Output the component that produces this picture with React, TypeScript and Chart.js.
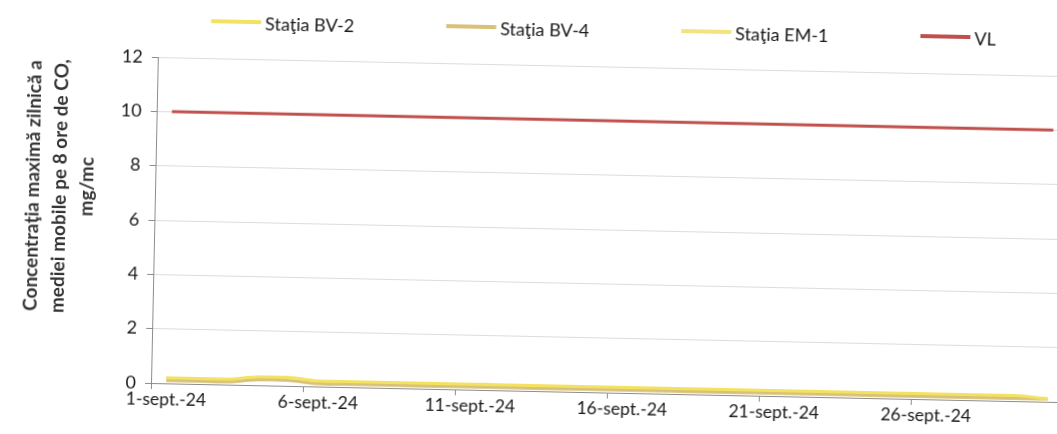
import { useEffect, useRef } from 'react';
import { Chart, registerables } from 'chart.js';

Chart.register(...registerables);

const dayLabels = [
  '1-sept.-24', '2-sept.-24', '3-sept.-24', '4-sept.-24', '5-sept.-24',
  '6-sept.-24', '7-sept.-24', '8-sept.-24', '9-sept.-24', '10-sept.-24',
  '11-sept.-24', '12-sept.-24', '13-sept.-24', '14-sept.-24', '15-sept.-24',
  '16-sept.-24', '17-sept.-24', '18-sept.-24', '19-sept.-24', '20-sept.-24',
  '21-sept.-24', '22-sept.-24', '23-sept.-24', '24-sept.-24', '25-sept.-24',
  '26-sept.-24', '27-sept.-24', '28-sept.-24', '29-sept.-24', '30-sept.-24',
];

const statiaBV2 = [0.2, 0.2, 0.2, 0.3, 0.3, 0.2, 0.2, 0.2, 0.2, 0.2, 0.2, 0.2, 0.2, 0.2, 0.2, 0.2, 0.2, 0.2, 0.2, 0.2, 0.2, 0.2, 0.2, 0.2, 0.2, 0.2, 0.2, 0.2, 0.2, 0.1];
const statiaBV4 = [0.1, 0.1, 0.1, 0.2, 0.2, 0.1, 0.1, 0.1, 0.1, 0.1, 0.1, 0.1, 0.1, 0.1, 0.1, 0.1, 0.1, 0.1, 0.1, 0.1, 0.1, 0.1, 0.1, 0.1, 0.1, 0.1, 0.1, 0.1, 0.1, 0.1];
const statiaEM1 = [0.2, 0.2, 0.2, 0.2, 0.3, 0.2, 0.2, 0.2, 0.1, 0.1, 0.2, 0.2, 0.1, 0.1, 0.2, 0.2, 0.2, 0.1, 0.1, 0.1, 0.2, 0.2, 0.2, 0.1, 0.1, 0.1, 0.1, 0.1, 0.1, 0.1];
const valoareLimita = [10, 10, 10, 10, 10, 10, 10, 10, 10, 10, 10, 10, 10, 10, 10, 10, 10, 10, 10, 10, 10, 10, 10, 10, 10, 10, 10, 10, 10, 10];

const seriesNames = ['Staţia BV-2', 'Staţia BV-4', 'Staţia EM-1', 'VL'];
const seriesColors = ['#f3e262', '#d8c179', '#f4e27e', '#c0504d'];

const yMin = 0;
const yMax = 12;
const yStep = 2;
const labelEvery = 5;

const yTitleLines = ['Concentraţia maximă zilnică a', 'mediei mobile pe 8 ore de CO,', 'mg/mc'];

const FONT = 'Lato, "Open Sans", sans-serif';

const legendPlugin = {
  id: 'customLegend',
  afterDraw(chart: any) {
    const ctx = chart.ctx;
    ctx.save();
    ctx.font = `18px ${FONT}`;
    const lineW = 50;
    const textGap = 4;
    const itemGap = 92;
    const items = chart.data.datasets.map((ds: any) => ({
      label: ds.label,
      color: ds.borderColor,
      w: ctx.measureText(ds.label).width,
    }));
    const total = items.reduce((s: number, it: any) => s + lineW + textGap + it.w, 0) + itemGap * (items.length - 1);
    let x = 596 - total / 2;
    const y = 20;
    items.forEach((it: any) => {
      ctx.strokeStyle = it.color;
      ctx.lineWidth = 4;
      ctx.beginPath();
      ctx.moveTo(x, y);
      ctx.lineTo(x + lineW, y);
      ctx.stroke();
      x += lineW + textGap;
      ctx.fillStyle = '#1a1a1a';
      ctx.textBaseline = 'middle';
      ctx.textAlign = 'left';
      ctx.fillText(it.label, x, y + 2);
      x += it.w + itemGap;
    });
    ctx.restore();
  },
};

const yTitlePlugin = {
  id: 'yTitle',
  afterDraw(chart: any) {
    const ctx = chart.ctx;
    ctx.save();
    ctx.font = `bold 19px ${FONT}`;
    ctx.fillStyle = '#333333';
    ctx.textAlign = 'center';
    ctx.textBaseline = 'middle';
    const xs = [29, 56, 83];
    yTitleLines.forEach((line, i) => {
      ctx.save();
      ctx.translate(xs[i], 188);
      ctx.rotate(-Math.PI / 2);
      ctx.fillText(line, 0, 0);
      ctx.restore();
    });
    ctx.restore();
  },
};

export default function App() {
  const canvasRef = useRef<HTMLCanvasElement | null>(null);

  useEffect(() => {
    if (!canvasRef.current) return;
    const seriesData = [statiaBV2, statiaBV4, statiaEM1, valoareLimita];
    const chart = new Chart(canvasRef.current, {
      type: 'line',
      data: {
        labels: dayLabels,
        datasets: seriesNames.map((name, i) => ({
          label: name,
          data: seriesData[i],
          borderColor: seriesColors[i],
          backgroundColor: seriesColors[i],
          borderWidth: 3,
          pointRadius: 0,
          tension: 0.3,
          fill: false,
        })),
      },
      options: {
        animation: false,
        responsive: false,
        maintainAspectRatio: false,
        layout: { padding: { left: 101, top: 57, right: 17, bottom: 0 } },
        plugins: {
          legend: { display: false },
          tooltip: { enabled: false },
        },
        scales: {
          x: {
            type: 'category',
            offset: true,
            afterFit: (scale: any) => {
              scale.height = 51;
            },
            grid: {
              display: true,
              drawOnChartArea: false,
              offset: true,
              tickLength: 6,
              tickColor: (ctx: any) => (ctx.index % labelEvery === 0 ? '#8c8c8c' : 'rgba(0,0,0,0)'),
            },
            border: { display: true, color: '#8c8c8c', width: 1 },
            ticks: {
              autoSkip: false,
              maxRotation: 0,
              minRotation: 0,
              padding: 0,
              color: '#1a1a1a',
              font: { family: FONT, size: 17.5 },
              callback: (_v: any, idx: number) => (idx % labelEvery === 0 ? dayLabels[idx] : ''),
            },
          },
          y: {
            min: yMin,
            max: yMax,
            afterFit: (scale: any) => {
              scale.width = 50;
            },
            grid: {
              color: '#dcdcdc',
              tickLength: 6,
              tickColor: '#8c8c8c',
            },
            border: { display: true, color: '#8c8c8c', width: 1 },
            ticks: {
              stepSize: yStep,
              padding: 9,
              color: '#1a1a1a',
              font: { family: FONT, size: 18 },
            },
          },
        },
      },
      plugins: [legendPlugin, yTitlePlugin],
    });
    return () => chart.destroy();
  }, []);

  return (
    <div style={{ position: 'fixed', left: 0, top: 0, width: 1057, height: 434, overflow: 'hidden', background: '#fff' }}>
      <div
        style={{
          position: 'absolute',
          left: 0,
          top: 0,
          width: 1080,
          height: 434,
          transform: 'rotate(1.2deg)',
          transformOrigin: '151px 383px',
        }}
      >
        <canvas ref={canvasRef} width={1080} height={434} style={{ display: 'block', width: 1080, height: 434 }} />
      </div>
    </div>
  );
}
